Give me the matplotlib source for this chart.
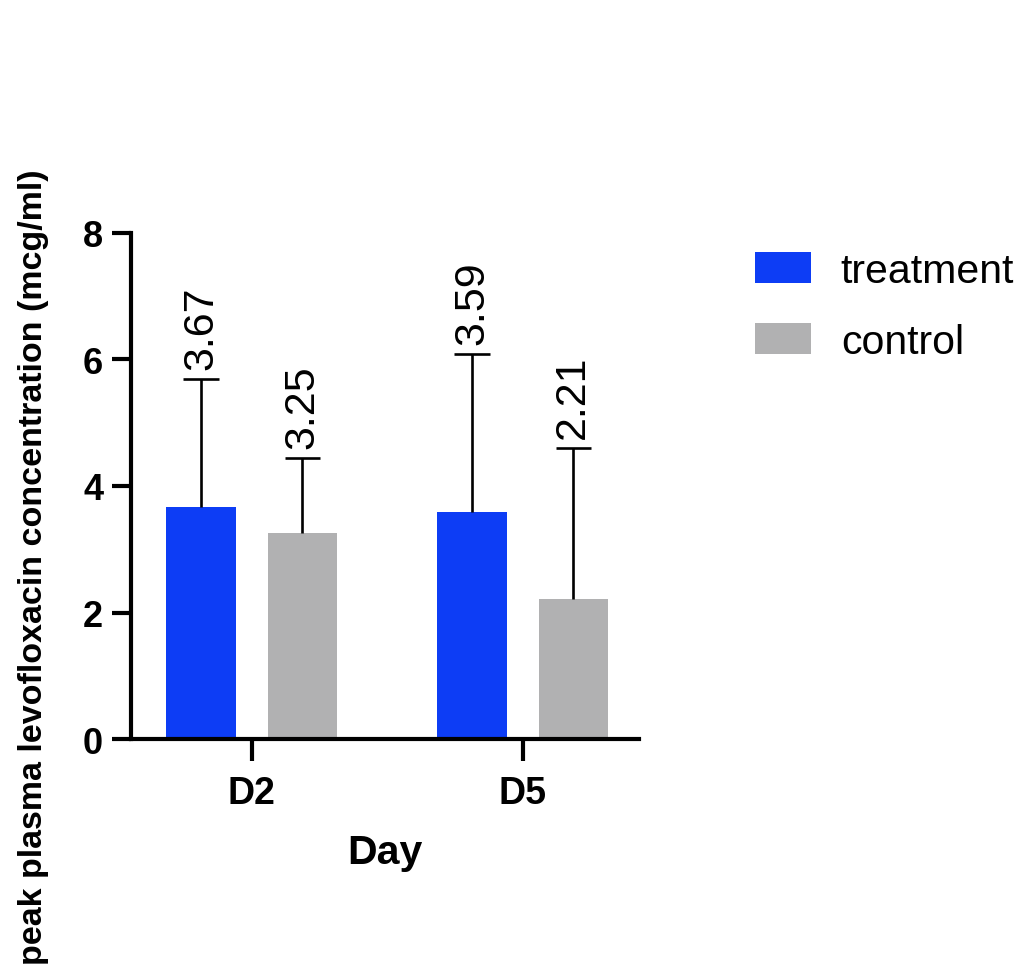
import matplotlib
matplotlib.use("Agg")
import matplotlib.pyplot as plt
import numpy as np

# peak plasma levofloxacin, mean + SD per day
days = ["D2", "D5"]
groups = ["treatment", "control"]
treatment_mean = [3.67, 3.59]
treatment_sd = [2.02, 2.50]
control_mean = [3.25, 2.21]
control_sd = [1.19, 2.39]

colors = {"treatment": "#0D3DF5", "control": "#B1B1B2"}

plt.rcParams["font.family"] = ["Liberation Sans", "DejaVu Sans"]

fig = plt.figure(figsize=(10.22, 9.70), dpi=100)
ax = fig.add_axes([0.1282, 0.2371, 0.497, 0.5217])

x = np.arange(len(days))
width = 0.255
offset = 0.187
cap = 0.065

series = [
    ("treatment", treatment_mean, treatment_sd, -offset),
    ("control", control_mean, control_sd, offset),
]
for name, means, sds, dx in series:
    xs = x + dx
    ax.bar(xs, means, width, color=colors[name], label=name, zorder=2)
    tops = np.array(means) + np.array(sds)
    # upper-only error bars: stem plus cap
    ax.vlines(xs, means, tops, color="black", linewidth=1.9, zorder=3)
    ax.hlines(tops, xs - cap, xs + cap, color="black", linewidth=1.9, zorder=3)
    for xi, m, t in zip(xs, means, tops):
        ax.annotate(f"{m:.2f}", (xi, t), xytext=(0, 7),
                    textcoords="offset points", rotation=90,
                    ha="center", va="bottom", fontsize=31)

ax.set_ylim(0, 8)
ax.set_yticks([0, 2, 4, 6, 8])
ax.set_xlim(-0.445, 1.429)
ax.set_xticks(x)
ax.set_xticklabels(days)

for side in ["top", "right"]:
    ax.spines[side].set_visible(False)
for side in ["left", "bottom"]:
    ax.spines[side].set_linewidth(3)

ax.tick_params(axis="y", length=14, width=3, pad=6, labelsize=26)
ax.tick_params(axis="x", length=16, width=3, pad=10, labelsize=27)
for lab in ax.get_xticklabels() + ax.get_yticklabels():
    lab.set_fontweight("bold")

ax.set_xlabel("Day", fontsize=29.5, fontweight="bold", labelpad=16)
fig.text(34 / 1022, 1 - 567 / 970,
         "peak plasma levofloxacin concentration (mcg/ml)",
         rotation=90, ha="center", va="center",
         fontsize=24.5, fontweight="bold")

ax.legend(loc="upper left", bbox_to_anchor=(755 / 1022, 1 - 253 / 970),
          bbox_transform=fig.transFigure, frameon=False, fontsize=29.5,
          handlelength=1.375, handleheight=0.78, handletextpad=0.72,
          labelspacing=0.8, borderpad=0, borderaxespad=0)

fig.savefig("out.png", dpi=100)
